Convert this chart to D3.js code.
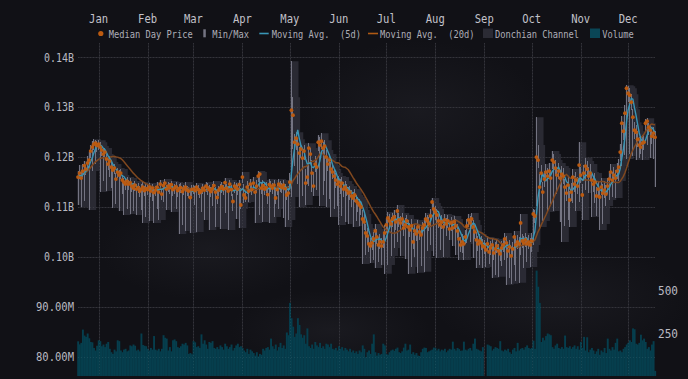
<!DOCTYPE html>
<html><head><meta charset="utf-8">
<script src="https://cdn.jsdelivr.net/npm/d3@7"></script>
<style>
html,body{margin:0;padding:0;background:#111116;}
svg{display:block;}
text{font-family:"DejaVu Sans Mono",monospace;white-space:pre;}
</style></head><body>
<svg id="chart" width="688" height="379"></svg>
<script>
// ---- DATA (prices in millions ISK, one value per day from startDate) ----
const startDate = "2023-12-19";
const medianPrice = [
116.0,116.8,115.8,117.2,118.3,117.6,118.8,119.4,121.2,122.0,122.6,122.8,122.3,
122.6,122.0,121.4,120.6,121.0,119.6,118.6,119.2,118.0,117.4,117.8,115.6,117.0,116.4,116.8,115.4,115.0,114.6,115.2,114.6,114.9,114.2,113.8,114.4,113.6,113.9,113.2,113.6,114.0,113.3,113.7,
113.5,114.0,113.2,113.8,112.9,113.4,114.0,113.0,114.6,112.6,114.3,114.8,113.6,114.2,113.9,114.5,113.5,113.8,114.1,113.3,113.7,113.9,113.1,113.6,114.0,113.4,113.2,111.9,113.5,
113.6,113.3,114.0,113.5,112.9,113.2,113.8,113.4,114.2,113.9,113.5,113.1,113.7,114.3,113.0,111.9,113.4,113.8,114.1,113.6,114.9,113.8,113.2,114.6,113.5,111.1,114.2,113.9,113.6,114.5,110.4,
116.0,112.4,111.8,114.0,113.2,114.6,113.5,114.8,113.0,114.2,116.2,116.6,113.8,114.3,113.6,113.9,112.5,114.5,114.2,113.8,114.4,111.8,113.5,114.6,114.2,113.9,114.4,113.7,112.4,112.8,
115.0,129.4,128.4,123.0,123.8,122.6,120.8,121.6,119.8,121.2,114.8,116.0,121.8,120.6,116.8,114.2,118.6,118.0,123.0,122.4,123.2,121.8,122.2,120.0,118.6,119.4,117.6,117.0,116.2,115.4,114.6,
115.0,114.2,114.8,113.6,114.0,113.4,112.8,113.0,112.2,111.8,112.4,111.2,110.8,110.4,110.0,107.6,107.0,104.8,104.2,102.6,102.2,102.8,103.6,105.2,104.0,102.4,103.0,102.2,103.0,104.8,
106.4,107.8,107.2,106.6,107.6,108.0,107.0,109.2,107.4,106.8,107.6,105.8,106.4,107.2,106.0,105.4,106.2,103.0,105.2,104.6,106.0,105.0,104.4,105.8,106.4,107.6,107.2,106.6,108.2,111.0,109.6,
109.0,108.4,107.2,106.4,107.0,106.0,107.4,106.6,107.2,105.6,106.8,105.8,107.0,106.2,105.2,103.6,102.4,103.0,102.6,104.0,106.2,107.4,106.8,107.6,106.0,105.0,103.4,102.6,103.2,102.8,102.2,
102.0,101.4,102.6,101.0,101.8,102.4,100.8,101.6,102.2,101.2,100.6,101.8,102.4,103.6,102.8,101.2,102.0,100.2,101.6,104.0,102.4,103.0,102.6,106.8,103.2,102.8,103.4,102.6,103.0,102.4,
103.2,108.6,108.2,120.0,119.4,114.0,116.8,113.0,115.6,117.0,116.2,117.2,115.8,119.4,119.0,117.8,116.4,117.2,115.8,116.6,116.2,114.0,112.8,114.4,111.4,113.0,116.0,114.6,115.4,114.2,118.4,
116.4,112.4,116.8,118.2,117.6,116.2,116.8,115.4,114.6,115.0,112.2,113.6,112.0,114.0,112.8,113.4,112.6,114.2,115.6,117.0,115.4,116.4,115.8,117.2,118.0,121.0,126.8,125.2,128.8,133.8,
132.8,132.4,131.0,128.0,125.4,125.0,123.6,122.4,122.0,122.8,123.0,126.8,127.2,126.0,125.4,124.2,124.8,124.0
];
const minPrice = [
110.4,115.6,110.0,116.0,111.2,116.4,117.6,109.4,119.8,117.2,121.4,118.6,121.0,
121.4,113.0,120.2,115.2,119.8,113.2,117.4,116.0,113.8,109.8,116.6,110.6,115.8,109.2,115.6,112.6,108.4,113.4,109.6,113.4,108.6,113.0,109.2,113.2,108.4,112.8,112.0,109.4,106.8,112.2,108.0,
112.4,107.2,112.0,111.2,106.8,112.2,109.6,107.4,113.4,111.4,111.0,113.6,109.4,113.0,112.6,109.0,112.2,112.6,109.6,112.0,104.6,112.8,106.4,112.4,105.2,112.2,111.8,104.8,112.2,
112.6,110.4,105.0,112.4,111.8,109.0,112.6,107.4,113.0,112.4,105.4,112.0,110.2,113.2,106.0,110.6,112.2,105.6,112.8,112.4,108.8,113.6,105.4,113.2,112.2,109.2,112.8,107.6,112.4,105.8,109.6,
114.8,110.8,111.0,112.6,111.0,113.6,112.4,113.8,106.8,112.8,115.0,108.4,112.6,107.0,112.4,112.8,110.6,106.8,113.0,112.6,108.0,110.6,112.4,109.6,113.0,112.8,107.8,106.0,111.4,107.4,
113.6,112.0,121.6,118.2,121.4,114.6,110.0,119.8,112.2,119.4,110.4,114.6,114.2,119.0,113.0,112.2,117.0,113.4,121.2,110.2,121.6,112.4,115.2,110.0,117.2,111.6,108.0,115.6,109.6,113.8,110.2,
106.4,112.6,108.2,112.0,107.0,112.2,106.6,111.4,110.0,106.0,111.0,107.2,109.0,106.2,108.4,98.6,105.4,100.4,102.6,101.0,98.8,101.4,99.4,97.8,102.6,99.0,101.6,98.4,101.8,96.6,
104.8,98.4,105.6,100.2,106.0,101.8,105.4,103.0,106.0,100.2,106.2,104.2,99.6,105.8,96.6,104.0,98.0,101.6,100.0,103.2,96.8,103.4,98.2,104.4,97.0,106.0,101.2,105.2,102.4,109.4,100.2,
107.4,99.8,105.8,101.4,105.6,100.0,106.0,104.2,105.8,103.4,105.2,102.2,105.6,100.4,103.8,99.4,101.0,100.8,99.4,102.6,102.8,106.0,103.0,106.2,99.8,103.6,97.8,101.2,98.4,101.4,97.8,
100.6,98.0,101.2,98.6,100.4,95.8,99.4,96.4,100.8,96.0,99.2,98.2,101.0,99.4,94.4,99.8,95.8,94.6,100.2,98.4,95.2,101.6,94.8,100.4,101.8,97.8,102.0,99.0,101.6,98.0,
101.0,102.4,106.8,110.2,117.8,106.0,115.0,107.2,114.0,115.4,109.0,115.6,110.6,117.6,109.2,116.2,112.6,115.6,107.0,103.0,114.6,106.2,111.2,107.4,106.0,111.2,110.8,113.0,109.2,112.6,111.0,
114.8,107.4,115.2,113.4,116.0,112.8,115.2,108.0,113.0,110.8,108.2,112.0,105.4,112.4,106.6,111.8,110.2,112.6,111.4,115.4,112.0,114.8,111.8,115.6,115.2,119.2,118.2,123.4,120.4,119.6,
131.0,120.6,129.4,120.2,123.6,119.4,122.0,119.8,120.6,119.4,121.4,125.0,122.4,124.4,119.8,122.6,119.6,114.0
];
const maxPrice = [
117.2,118.4,117.0,118.6,119.2,118.4,120.2,121.0,122.4,123.2,123.6,123.4,123.2,
123.4,123.0,122.2,121.6,121.8,120.6,119.8,120.2,119.0,118.4,118.6,116.8,117.8,117.4,117.6,116.4,115.8,115.6,116.0,115.4,115.8,115.0,114.8,115.2,114.6,114.8,114.2,114.6,115.0,114.2,114.8,
114.4,114.8,114.2,114.6,113.8,114.2,115.0,114.0,115.4,113.8,115.0,115.6,114.4,115.0,114.8,115.2,114.4,114.6,115.0,114.2,114.6,114.8,114.0,114.4,115.0,114.2,114.0,113.4,114.4,
114.4,114.2,114.8,114.4,113.8,114.0,114.6,114.2,115.0,114.8,114.4,114.0,114.6,115.2,114.0,113.2,114.2,114.6,115.0,114.4,115.8,114.6,114.2,115.4,114.4,112.6,115.0,114.8,114.4,115.4,113.8,
117.0,114.6,113.4,115.2,114.4,115.6,114.6,116.0,114.2,115.4,117.2,117.0,115.0,115.4,114.8,115.0,114.0,115.6,115.2,114.8,115.4,113.6,114.6,115.6,115.2,114.8,115.4,114.6,114.0,114.2,
116.8,139.2,132.0,124.6,125.0,123.6,122.0,122.8,121.2,122.4,117.6,118.4,122.8,121.8,119.4,117.0,120.2,119.6,124.4,124.0,124.8,123.0,123.4,121.4,120.0,120.6,119.0,118.4,117.6,116.8,116.0,
116.2,115.6,116.0,115.0,115.2,114.6,114.0,114.2,113.4,113.0,113.6,112.4,112.0,111.6,111.2,109.4,108.6,106.6,105.8,104.4,103.8,104.2,105.0,106.6,105.6,104.0,104.6,103.8,104.6,106.4,
107.8,109.0,108.6,108.0,108.8,109.4,108.4,110.4,108.8,108.2,108.8,107.2,107.8,108.4,107.4,106.8,107.6,104.8,106.6,106.0,107.4,106.4,105.8,107.0,107.8,108.8,108.4,108.0,109.6,111.8,110.8,
110.2,109.6,108.6,107.8,108.4,107.4,108.6,107.8,108.4,107.0,108.0,107.2,108.2,107.6,106.6,105.2,104.0,104.6,104.2,105.4,107.6,108.6,108.2,108.8,107.4,106.4,105.0,104.2,104.6,104.2,103.6,
103.4,102.8,104.0,102.4,103.2,103.8,102.2,103.0,103.6,102.6,102.0,103.2,103.8,104.8,104.2,102.6,103.4,101.6,103.0,105.2,103.8,104.4,104.0,108.6,104.6,104.2,104.8,104.0,104.4,103.8,
104.8,109.6,109.4,128.0,122.4,116.6,118.4,115.0,117.2,118.6,117.8,118.8,117.4,121.2,120.6,119.4,118.0,118.8,117.4,118.2,117.8,115.6,114.4,116.0,113.2,114.8,117.6,116.2,117.0,116.0,123.0,
118.0,114.6,118.4,119.8,119.2,118.0,118.6,117.0,116.2,116.8,114.0,115.2,113.8,115.8,114.6,115.2,114.4,115.8,117.2,118.6,117.0,118.0,117.4,118.8,119.6,122.6,128.2,127.0,130.4,134.4,
134.2,133.8,132.6,129.6,127.0,126.4,125.2,124.0,123.8,124.4,124.6,127.6,127.8,126.8,126.4,125.6,126.0,125.2
];
const volume = [
204,186,195,273,238,230,250,222,200,198,165,150,178,
210,205,175,185,170,190,200,160,140,130,155,145,210,205,150,140,155,160,145,150,180,175,185,178,150,155,145,250,182,178,175,
160,150,165,155,235,155,150,160,145,160,240,225,220,150,170,145,210,215,205,170,165,175,190,185,195,180,130,135,128,
205,198,170,175,165,245,190,210,185,160,200,195,205,165,160,170,158,180,170,155,190,175,160,170,185,150,165,180,190,170,175,
165,150,140,160,130,155,145,135,120,140,115,130,125,160,150,165,170,155,220,175,160,185,150,170,195,165,180,160,256,240,
430,340,290,230,250,340,300,245,225,240,190,280,175,165,185,160,200,180,170,195,165,175,160,190,185,170,190,160,155,165,150,
175,160,170,150,165,155,145,160,140,150,135,145,130,150,140,180,160,110,140,150,130,190,245,140,120,135,125,130,190,180,
130,125,140,150,155,148,160,167,140,135,145,167,190,150,155,185,130,140,125,135,120,118,140,160,167,165,140,145,150,155,167,
165,150,160,145,155,150,160,140,150,160,155,202,160,150,165,158,148,150,202,155,150,160,165,150,190,220,160,155,150,145,170,
0,0,185,180,175,150,160,170,165,160,205,150,145,155,150,160,140,130,155,165,145,195,150,160,165,155,170,180,165,160,
165,208,160,620,525,430,200,225,210,235,250,245,240,170,160,180,190,165,160,170,160,238,170,165,175,160,170,180,160,175,155,
200,165,230,150,228,140,155,165,150,130,145,160,125,150,140,165,135,220,160,150,170,155,195,220,145,150,140,160,170,185,
195,210,200,280,275,190,185,195,243,210,220,200,160,170,150,185,205,30
];
const priceTicks = [80, 90, 100, 110, 120, 130, 140];
const volumeTicks = [250, 500];
const legendLabels = ["Median Day Price", "Min/Max", "Moving Avg.  (5d)", "Moving Avg.  (20d)", "Donchian Channel", "Volume"];

// ---- CHART ----
const W = 688, H = 379;
const svg = d3.select("#chart");
const C = {
  bg: "#111116", grid: "#25252c", text: "#b9b9c1", legendText: "#aeaeb6",
  dot: "#bb5a10", ma5: "#3996b6", ma20: "#80481f", band: "#2d2d36",
  minmax: "#747482", vol: "#063e4d"
};

svg.append("rect").attr("width", W).attr("height", H).attr("fill", C.bg);
const defs = svg.append("defs");
const rg = defs.append("radialGradient").attr("id", "blob");
rg.append("stop").attr("offset", "0%").attr("stop-color", "#1c1c22").attr("stop-opacity", 0.8);
rg.append("stop").attr("offset", "100%").attr("stop-color", "#1c1c22").attr("stop-opacity", 0);
[[420,110,120,70],[210,250,110,50],[560,300,130,55],[330,330,100,40]]
  .forEach(b => svg.append("ellipse").attr("cx", b[0]).attr("cy", b[1]).attr("rx", b[2]).attr("ry", b[3]).attr("fill", "url(#blob)"));

const parse = d3.utcParse("%Y-%m-%d");
const t0 = parse(startDate);
const n = medianPrice.length;
const dates = d3.range(n).map(i => d3.utcDay.offset(t0, i));
const x = d3.scaleUtc().domain([t0, dates[n - 1]]).range([78, 655]);
const y = d3.scaleLinear().domain([80, 140]).range([356.7, 57.3]);
const yv = d3.scaleLinear().domain([0, 500]).range([376, 291]);
const dayW = x(dates[1]) - x(dates[0]);

const data = dates.map((d, i) => ({
  date: d, med: medianPrice[i], lo: minPrice[i], hi: maxPrice[i], vol: volume[i]
}));
// derived series
function movingAvg(arr, w) {
  return arr.map((_, i) => d3.mean(arr.slice(Math.max(0, i - w + 1), i + 1)));
}
const ma5 = movingAvg(medianPrice, 5);
const ma20 = movingAvg(medianPrice, 20);
const donHi = maxPrice.map((_, i) => d3.max(maxPrice.slice(Math.max(0, i - 4), i + 1)));
const donLo = minPrice.map((_, i) => d3.min(minPrice.slice(Math.max(0, i - 4), i + 1)));

const monthTicks = x.ticks(d3.utcMonth.every(1));
const fmtMonth = d3.utcFormat("%b");
const fmtPrice = v => v >= 100 ? (v / 1000).toFixed(2) + "B" : v.toFixed(2) + "M";

// grid
const grid = svg.append("g");
grid.selectAll(".hg").data(priceTicks).join("line")
  .attr("x1", 78).attr("x2", 655).attr("y1", d => Math.round(y(d)) + 0.5).attr("y2", d => Math.round(y(d)) + 0.5)
  .attr("stroke", C.grid).attr("stroke-width", 1);
grid.selectAll(".vg").data(monthTicks).join("line")
  .attr("x1", d => Math.round(x(d)) + 0.5).attr("x2", d => Math.round(x(d)) + 0.5)
  .attr("y1", 43).attr("y2", 376)
  .attr("stroke", C.grid).attr("stroke-width", 1);

// volume bars
svg.append("g").selectAll("rect").data(data).join("rect")
  .attr("x", d => x(d.date) - dayW / 2)
  .attr("width", dayW + 0.35)
  .attr("y", d => yv(d.vol))
  .attr("height", d => yv(0) - yv(d.vol))
  .attr("fill", C.vol);

// donchian channel
const bandPts = data.map((d, i) => ({ x: x(d.date) - dayW / 2, hi: donHi[i], lo: donLo[i] }));
bandPts.push({ x: x(dates[n - 1]) + dayW / 2, hi: donHi[n - 1], lo: donLo[n - 1] });
svg.append("path").datum(bandPts)
  .attr("d", d3.area().curve(d3.curveStepAfter).x(d => d.x).y0(d => y(d.lo)).y1(d => y(d.hi)))
  .attr("fill", C.band).attr("fill-opacity", 0.92);

// overlay faint grid (dotted look over fills)
const og = svg.append("g").attr("stroke", "#ffffff").attr("stroke-opacity", 0.07).attr("stroke-dasharray", "1,2");
og.selectAll(".ohg").data(priceTicks).join("line")
  .attr("x1", 78).attr("x2", 655).attr("y1", d => Math.round(y(d)) + 0.5).attr("y2", d => Math.round(y(d)) + 0.5);
og.selectAll(".ovg").data(monthTicks).join("line")
  .attr("x1", d => Math.round(x(d)) + 0.5).attr("x2", d => Math.round(x(d)) + 0.5)
  .attr("y1", 43).attr("y2", 376);

// min / max
svg.append("g").selectAll("line").data(data).join("line")
  .attr("x1", d => x(d.date)).attr("x2", d => x(d.date))
  .attr("y1", d => y(d.hi)).attr("y2", d => y(d.lo))
  .attr("stroke", C.minmax).attr("stroke-width", 1).attr("shape-rendering", "crispEdges");

// moving averages
svg.append("path").datum(ma20)
  .attr("d", d3.line().x((d, i) => x(dates[i])).y(d => y(d)))
  .attr("fill", "none").attr("stroke", C.ma20).attr("stroke-width", 1.5);
svg.append("path").datum(ma5)
  .attr("d", d3.line().x((d, i) => x(dates[i])).y(d => y(d)))
  .attr("fill", "none").attr("stroke", C.ma5).attr("stroke-width", 1.4);

// median dots
svg.append("g").selectAll("circle").data(data).join("circle")
  .attr("cx", d => x(d.date)).attr("cy", d => y(d.med)).attr("r", 1.9)
  .attr("fill", C.dot);

// axes labels
svg.append("g").selectAll("text").data(monthTicks).join("text")
  .attr("x", d => x(d)).attr("y", 23).attr("text-anchor", "middle")
  .attr("font-size", 12.5).attr("fill", "#c2c2ca")
  .attr("textLength", 19).attr("lengthAdjust", "spacingAndGlyphs")
  .text(d => fmtMonth(d));
svg.append("g").selectAll("text").data(priceTicks).join("text")
  .attr("x", 74).attr("y", d => y(d) + 4.2).attr("text-anchor", "end")
  .attr("font-size", 11.5).attr("fill", C.text)
  .attr("textLength", d => fmtPrice(d).length === 5 ? 30 : 38).attr("lengthAdjust", "spacingAndGlyphs")
  .text(d => fmtPrice(d));
svg.append("g").selectAll("text").data(volumeTicks).join("text")
  .attr("x", 658).attr("y", d => yv(d) + 4.2).attr("text-anchor", "start")
  .attr("font-size", 11.5).attr("fill", C.text)
  .attr("textLength", 20).attr("lengthAdjust", "spacingAndGlyphs")
  .text(d => d);

// legend
const lg = svg.append("g");
const lt = [108.7, 212.3, 271.7, 380, 495, 602.3];
lg.append("circle").attr("cx", 100.8).attr("cy", 33.5).attr("r", 2.6).attr("fill", C.dot);
lg.append("rect").attr("x", 203.3).attr("y", 29.3).attr("width", 2.5).attr("height", 8).attr("fill", C.minmax);
lg.append("line").attr("x1", 259.3).attr("x2", 268.7).attr("y1", 33.5).attr("y2", 33.5).attr("stroke", C.ma5).attr("stroke-width", 1.6);
lg.append("line").attr("x1", 368).attr("x2", 378).attr("y1", 33.5).attr("y2", 33.5).attr("stroke", "#b05a14").attr("stroke-width", 1.6);
lg.append("rect").attr("x", 483).attr("y", 28.5).attr("width", 10).attr("height", 9.5).attr("fill", "#2b2b34");
lg.append("rect").attr("x", 590).attr("y", 28.5).attr("width", 10).attr("height", 9.5).attr("fill", "#0a4656");
lg.selectAll("text").data(legendLabels).join("text")
  .attr("x", (d, i) => lt[i]).attr("y", 37.6)
  .attr("font-size", 9.6).attr("fill", C.legendText)
  .attr("textLength", d => d.length * 5.25).attr("lengthAdjust", "spacingAndGlyphs")
  .text(d => d);
</script>
</body></html>
